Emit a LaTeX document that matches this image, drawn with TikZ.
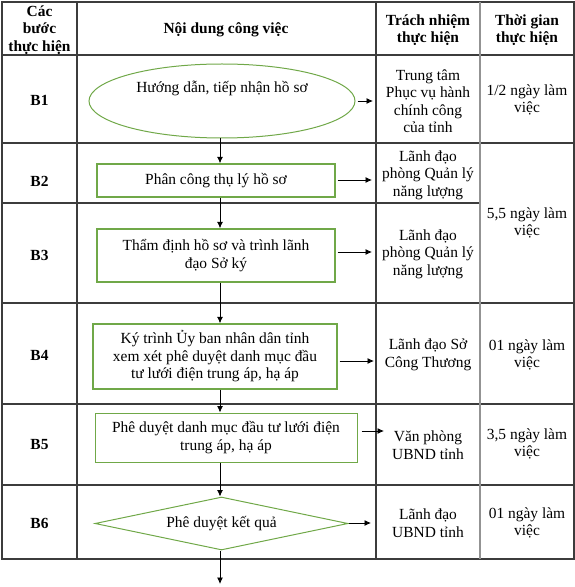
\documentclass[tikz,border=0pt]{standalone}
\usepackage{fontspec}
\setmainfont{Liberation Serif}
\usetikzlibrary{shapes.geometric,arrows.meta}
\definecolor{boxgreen}{RGB}{112,168,72}
\definecolor{gridline}{RGB}{60,60,60}
\begin{document}
\begin{tikzpicture}[x=1bp,y=-1bp,
  every node/.style={font=\fontsize{15.5}{17.5}\selectfont, align=center},
  grid/.style={draw=gridline, line width=1.1bp},
  flowbox/.style={draw=boxgreen, line width=1.4bp, rectangle, inner sep=0pt},
  arr/.style={-{Latex[length=6.5bp,width=6bp]}, line width=0.8bp, black},
  hdr/.style={font=\fontsize{15.5}{17.5}\selectfont\bfseries}]
\useasboundingbox (0,0) rectangle (575,587);
% table
\draw[grid] (2,2) rectangle (574,559);
\draw[grid] (2,55) -- (574,55);
\draw[grid] (2,143) -- (574,143);
\draw[grid] (2,203) -- (480,203);
\draw[grid] (2,303) -- (574,303);
\draw[grid] (2,404) -- (574,404);
\draw[grid] (2,485) -- (574,485);
\draw[grid] (77,2) -- (77,559);
\draw[grid] (376,2) -- (376,559);
\draw[draw=gray!85, line width=2bp] (480,2) -- (480,559);
% headers
\node[hdr] (h1) at (39.5,30) {Các\\bước\\thực hiện};
\node[hdr] (h2) at (226,30) {Nội dung công việc};
\node[hdr] (h3) at (428,30) {Trách nhiệm\\thực hiện};
\node[hdr] (h4) at (527,30) {Thời gian\\thực hiện};
% step labels
\node[hdr] (s1) at (39.5,100) {B1};
\node[hdr] (s2) at (39.5,181) {B2};
\node[hdr] (s3) at (39.5,255) {B3};
\node[hdr] (s4) at (39.5,355) {B4};
\node[hdr] (s5) at (39.5,445) {B5};
\node[hdr] (s6) at (39.5,523) {B6};
% responsibility
\node (t1) at (428,101) {Trung tâm\\Phục vụ hành\\chính công\\của tỉnh};
\node (t2) at (428,175) {Lãnh đạo\\phòng Quản lý\\năng lượng};
\node (t3) at (428,254) {Lãnh đạo\\phòng Quản lý\\năng lượng};
\node (t4) at (428,355) {Lãnh đạo Sở\\Công Thương};
\node (t5) at (428,445) {Văn phòng\\UBND tỉnh};
\node (t6) at (428,523) {Lãnh đạo\\UBND tỉnh};
% time
\node (d1) at (527,100) {1/2 ngày làm\\việc};
\node (d23) at (527,223) {5,5 ngày làm\\việc};
\node (d4) at (527,355) {01 ngày làm\\việc};
\node (d5) at (527,444) {3,5 ngày làm\\việc};
\node (d6) at (527,523) {01 ngày làm\\việc};
% flow
\node[ellipse, draw=boxgreen, line width=1bp, minimum width=266bp, minimum height=74bp, inner sep=0pt] (e1) at (222,101) {};
\node (e1t) at (222,88) {Hướng dẫn, tiếp nhận hồ sơ};
\node[flowbox, minimum width=238bp, minimum height=33bp] (b2) at (216,180.5) {Phân công thụ lý hồ sơ};
\node[flowbox, minimum width=238bp, minimum height=53bp] (b3) at (216,255.5) {Thẩm định hồ sơ và trình lãnh\\đạo Sở ký};
\node[flowbox, minimum width=244bp, minimum height=65bp] (b4) at (215,356.5) {Ký trình Ủy ban nhân dân tỉnh\\xem xét phê duyệt danh mục đầu\\tư lưới điện trung áp, hạ áp};
\node[flowbox, line width=1bp, minimum width=262bp, minimum height=49bp] (b5) at (226,437.5) {Phê duyệt danh mục đầu tư lưới điện\\trung áp, hạ áp};
\node[diamond, aspect=4.8, draw=boxgreen, line width=1bp, minimum width=253bp, minimum height=53bp, inner sep=0pt] (b6) at (221.5,523.5) {Phê duyệt kết quả};
% connectors
\coordinate (fx) at (220,0);
\coordinate (endpt) at (220,584);
\draw[arr] (e1.south -| fx) -- (b2.north -| fx);
\draw[arr] (b2.south -| fx) -- (b3.north -| fx);
\draw[arr] (b3.south -| fx) -- (b4.north -| fx);
\draw[arr] (b4.south -| fx) -- (b5.north -| fx);
\draw[arr] (b5.south -| fx) -- (b6.north -| fx);
\draw[arr] (b6.south -| fx) -- (endpt);
\coordinate (r1) at (373,101);
\coordinate (r2) at (372,180);
\coordinate (r3) at (372,252);
\coordinate (r4) at (374,361);
\coordinate (r5) at (384,431);
\coordinate (r6) at (371,523);
\draw[arr, shorten <=2bp] (e1.east |- r1) -- (r1);
\draw[arr, shorten <=2bp] (b2.east |- r2) -- (r2);
\draw[arr, shorten <=2bp] (b3.east |- r3) -- (r3);
\draw[arr, shorten <=2bp] (b4.east |- r4) -- (r4);
\draw[arr, shorten <=4bp] (b5.east |- r5) -- (r5);
\draw[arr] (b6.east |- r6) -- (r6);
\end{tikzpicture}
\end{document}
